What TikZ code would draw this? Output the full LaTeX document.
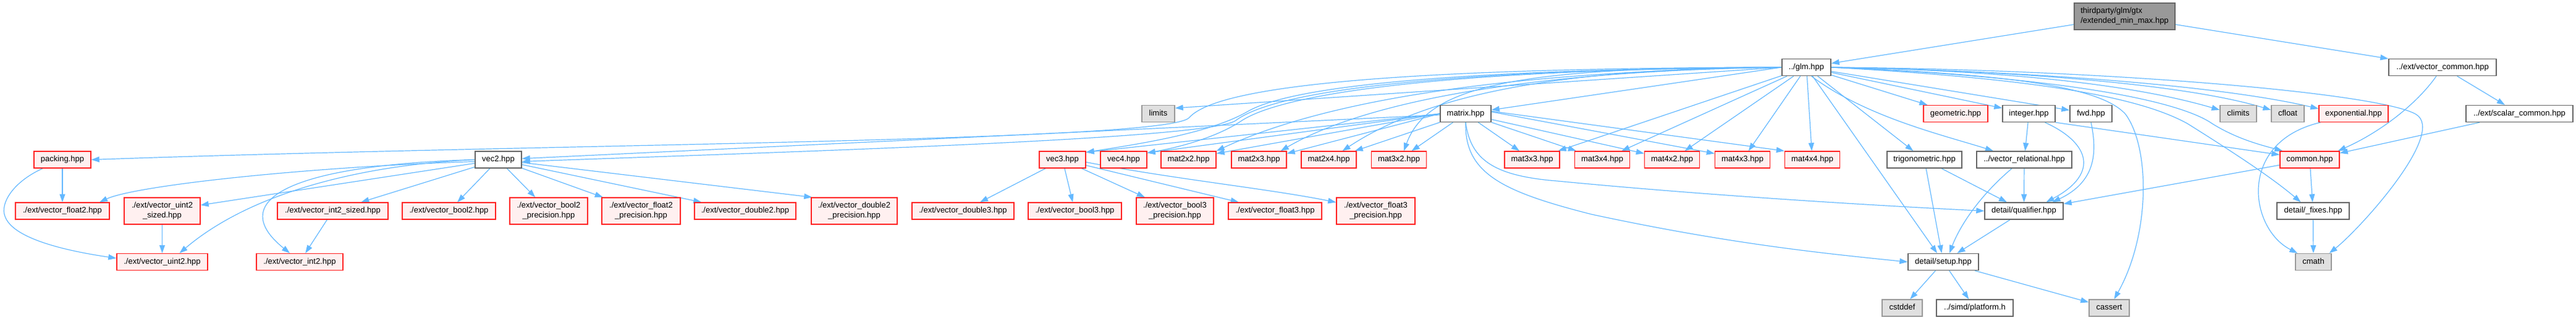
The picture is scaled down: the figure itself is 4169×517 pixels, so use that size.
\documentclass[tikz,border=0pt]{standalone}
\usepackage{fontspec}
\setmainfont{Liberation Sans}
\usetikzlibrary{arrows.meta,backgrounds}
\definecolor{eblue}{HTML}{63B8FF}
\definecolor{rfill}{HTML}{FFF0F0}
\definecolor{rline}{HTML}{FF2020}
\definecolor{wline}{HTML}{666666}
\definecolor{gfill}{HTML}{E0E0E0}
\definecolor{gline}{HTML}{999999}
\definecolor{rootfill}{HTML}{999999}
\newcommand\dxfont{\fontsize{13}{15.8}\selectfont}
\begin{document}
\begin{tikzpicture}[x=1pt,y=-1pt,
  nb/.style={draw, rectangle, inner sep=0pt, line width=1.4pt, font=\dxfont, text=black},
  one/.style={minimum height=27pt, text height=9.6pt, text depth=2.8pt},
  two/.style={minimum height=43pt, align=center},
  rn/.style={nb, draw=rline, fill=rfill},
  wn/.style={nb, draw=wline, fill=white},
  gn/.style={nb, draw=gline, fill=gfill},
  rootn/.style={nb, draw=wline, fill=rootfill, minimum height=43pt, align=left},
  dep/.style={draw=eblue, line width=1.2pt, -{Triangle[length=13pt,width=9pt]}}]
\useasboundingbox (0,0) rectangle (4169,517);

% row 0
\node[rootn, minimum width=163pt] (root) at (3438.5,26.5) {thirdparty/glm/gtx\\/extended\_min\_max.hpp};
% row 1
\node[wn,one,minimum width=79pt] (glm) at (2923.5,109) {../glm.hpp};
\node[wn,one,minimum width=174pt] (vcommon) at (3953,109) {../ext/vector\_common.hpp};
% row 2
\node[gn,one,minimum width=53pt] (limits) at (1874.5,184) {limits};
\node[wn,one,minimum width=82pt] (matrix) at (2372,184) {matrix.hpp};
\node[rn,one,minimum width=104pt] (geometric) at (3165,184) {geometric.hpp};
\node[wn,one,minimum width=85pt] (integer) at (3283.5,184) {integer.hpp};
\node[wn,one,minimum width=68pt] (fwd) at (3384,184) {fwd.hpp};
\node[gn,one,minimum width=59pt] (climits) at (3622.5,184) {climits};
\node[gn,one,minimum width=53pt] (cfloat) at (3702.5,184) {cfloat};
\node[rn,one,minimum width=112pt] (exponential) at (3809,184) {exponential.hpp};
\node[wn,one,minimum width=173pt] (scommon) at (4077.5,184) {../ext/scalar\_common.hpp};
% row 3
\node[rn,one,minimum width=92pt] (packing) at (101,258.5) {packing.hpp};
\node[wn,one,minimum width=75pt] (vec2) at (806.5,258.5) {vec2.hpp};
\node[rn,one,minimum width=75pt] (vec3) at (1719.5,258.5) {vec3.hpp};
\node[rn,one,minimum width=75pt] (vec4) at (1818.5,258.5) {vec4.hpp};
\node[rn,one,minimum width=89pt] (mat2x2) at (1923.5,258.5) {mat2x2.hpp};
\node[rn,one,minimum width=89pt] (mat2x3) at (2037.5,258.5) {mat2x3.hpp};
\node[rn,one,minimum width=89pt] (mat2x4) at (2150.5,258.5) {mat2x4.hpp};
\node[rn,one,minimum width=89pt] (mat3x2) at (2264,258.5) {mat3x2.hpp};
\node[rn,one,minimum width=89pt] (mat3x3) at (2479.5,258.5) {mat3x3.hpp};
\node[rn,one,minimum width=89pt] (mat3x4) at (2593,258.5) {mat3x4.hpp};
\node[rn,one,minimum width=89pt] (mat4x2) at (2706,258.5) {mat4x2.hpp};
\node[rn,one,minimum width=89pt] (mat4x3) at (2820,258.5) {mat4x3.hpp};
\node[rn,one,minimum width=89pt] (mat4x4) at (2933,258.5) {mat4x4.hpp};
\node[wn,one,minimum width=121pt] (trig) at (3114.5,258.5) {trigonometric.hpp};
\node[wn,one,minimum width=154pt] (vrel) at (3276,258.5) {../vector\_relational.hpp};
\node[rn,one,minimum width=96pt] (common) at (3738,258.5) {common.hpp};
% row 4
\node[rn,one,minimum width=152pt] (vfloat2) at (101,341.5) {./ext/vector\_float2.hpp};
\node[rn,two,minimum width=123pt] (vuint2s) at (262.5,341.5) {./ext/vector\_uint2\\\_sized.hpp};
\node[rn,one,minimum width=179pt] (vint2s) at (538.5,341.5) {./ext/vector\_int2\_sized.hpp};
\node[rn,one,minimum width=151pt] (vbool2) at (726.5,341.5) {./ext/vector\_bool2.hpp};
\node[rn,two,minimum width=126pt] (vbool2p) at (888,341.5) {./ext/vector\_bool2\\\_precision.hpp};
\node[rn,two,minimum width=127pt] (vfloat2p) at (1037.5,341.5) {./ext/vector\_float2\\\_precision.hpp};
\node[rn,one,minimum width=164pt] (vdouble2) at (1206,341.5) {./ext/vector\_double2.hpp};
\node[rn,two,minimum width=139pt] (vdouble2p) at (1382.5,341.5) {./ext/vector\_double2\\\_precision.hpp};
\node[rn,one,minimum width=165pt] (vdouble3) at (1558.5,341.5) {./ext/vector\_double3.hpp};
\node[rn,one,minimum width=151pt] (vbool3) at (1739.5,341.5) {./ext/vector\_bool3.hpp};
\node[rn,two,minimum width=125pt] (vbool3p) at (1901.5,341.5) {./ext/vector\_bool3\\\_precision.hpp};
\node[rn,one,minimum width=151pt] (vfloat3) at (2063.5,341.5) {./ext/vector\_float3.hpp};
\node[rn,two,minimum width=127pt] (vfloat3p) at (2226.5,341.5) {./ext/vector\_float3\\\_precision.hpp};
\node[wn,one,minimum width=127pt] (qualifier) at (3275.5,341.5) {detail/qualifier.hpp};
\node[wn,one,minimum width=117pt] (fixes) at (3743.5,341.5) {detail/\_fixes.hpp};
% row 5
\node[rn,one,minimum width=147pt] (vuint2) at (262.5,424) {./ext/vector\_uint2.hpp};
\node[rn,one,minimum width=140pt] (vint2) at (485,424) {./ext/vector\_int2.hpp};
\node[wn,one,minimum width=114pt] (setup) at (3145,424) {detail/setup.hpp};
\node[gn,one,minimum width=58pt] (cmath) at (3744,424) {cmath};
% row 6
\node[gn,one,minimum width=65pt] (cstddef) at (3078.5,498.5) {cstddef};
\node[wn,one,minimum width=124pt] (platform) at (3196,498.5) {../simd/platform.h};
\node[gn,one,minimum width=65pt] (cassert) at (3413.5,498.5) {cassert};

\begin{scope}[on background layer]
% root
\draw[dep] (root) -- (glm);
\draw[dep] (root) -- (vcommon);
% glm to the left
\draw[dep] (glm.west) -- ([yshift=9pt]limits.east);
\draw[dep] (glm.west) .. controls (2250,110) and (1970,140) .. (1925,190) .. controls (1895,230) and (900,232) .. (packing.east);
\draw[dep] (glm.west) .. controls (2300,113) and (2060,150) .. (2000,195) .. controls (1960,225) and (1300,245) .. ([yshift=-3pt]vec2.east);
\draw[dep] (glm.west) .. controls (2350,112) and (2090,140) .. (2020,180) .. controls (1960,215) and (1850,232) .. ([yshift=12pt]vec3.east);
\draw[dep] (glm.west) .. controls (2350,112) and (2080,150) .. (2010,195) .. controls (1970,222) and (1910,238) .. ([yshift=11pt]vec4.east);
\draw[dep] (glm.west) .. controls (2450,115) and (2150,160) .. (mat2x2.north east);
\draw[dep] (glm.west) .. controls (2450,115) and (2200,170) .. ([xshift=-10pt]mat2x3.north east);
\draw[dep] (glm.west) .. controls (2500,110) and (2300,160) .. ([xshift=22pt]mat2x4.north);
\draw[dep] (glm.west) .. controls (2450,108) and (2310,140) .. ([xshift=8pt]mat3x2.north);
\draw[dep] (glm.west) -- ([yshift=6pt]matrix.east);
\draw[dep] (glm) -- (mat3x3);
\draw[dep] (glm) -- (mat3x4);
\draw[dep] (glm) -- (mat4x2);
\draw[dep] (glm) -- (mat4x3);
\draw[dep] (glm) -- (mat4x4);
% glm downwards and to the right
\draw[dep] (glm) -- (setup);
\draw[dep] (glm) -- (trig);
\draw[dep] ([xshift=8pt]glm.south) .. controls (3020,190) and (3150,220) .. ([xshift=-50pt]vrel.north);
\draw[dep] (glm) -- (geometric);
\draw[dep] (glm) -- (integer);
\draw[dep] (glm) -- (fwd);
\draw[dep] (glm.east) .. controls (3300,115) and (3480,145) .. ([yshift=6pt]climits.west);
\draw[dep] (glm.east) .. controls (3300,115) and (3550,140) .. ([yshift=6pt]cfloat.west);
\draw[dep] (glm.east) .. controls (3300,115) and (3600,140) .. ([yshift=8pt]exponential.west);
\draw[dep] (glm.east) .. controls (3350,125) and (3530,165) .. (3580,200) .. controls (3620,225) and (3660,235) .. ([xshift=5pt]common.north west);
\draw[dep] (glm.east) .. controls (3250,125) and (3450,150) .. (3540,200) .. controls (3620,250) and (3680,290) .. ([xshift=-20pt]fixes.north);
\draw[dep] (glm.east) .. controls (3250,120) and (3400,140) .. (3440,185) .. controls (3480,240) and (3480,380) .. ([xshift=8pt]cassert.north);
\draw[dep] (glm.east) .. controls (3400,112) and (3850,150) .. (3910,185) .. controls (3960,215) and (3820,370) .. ([xshift=-4pt]cmath.north east);
% vector_common / scalar_common / common / exponential
\draw[dep] ([xshift=-10pt]vcommon.south) .. controls (3910,170) and (3850,215) .. ([xshift=-3pt]common.north east);
\draw[dep] (vcommon) -- (scommon);
\draw[dep] (scommon) -- (common);
\draw[dep] ([xshift=3pt]exponential.south west) .. controls (3620,230) and (3640,370) .. ([xshift=4pt]cmath.north west);
\draw[dep] (common) -- (qualifier);
\draw[dep] (common) -- (fixes);
\draw[dep] (fixes) -- (cmath);
% integer, fwd
\draw[dep] (integer) -- (vrel);
\draw[dep] ([xshift=26pt]integer.south) .. controls (3380,230) and (3400,280) .. ([xshift=36pt]qualifier.north);
\draw[dep] (integer.south east) -- ([yshift=8pt]common.west);
\draw[dep] (fwd.south) .. controls (3395,250) and (3390,295) .. ([xshift=46pt]qualifier.north);
% trig, vrel, qualifier, setup
\draw[dep] (trig) -- (setup);
\draw[dep] (trig) -- (qualifier);
\draw[dep] (vrel) -- (qualifier);
\draw[dep] ([xshift=-20pt]vrel.south) .. controls (3200,320) and (3170,370) .. ([xshift=10pt]setup.north);
\draw[dep] (qualifier) -- (setup);
\draw[dep] (setup) -- (cstddef);
\draw[dep] (setup) -- (platform);
\draw[dep] (setup) -- (cassert);
% matrix
\draw[dep] (matrix) -- (vec2);
\draw[dep] (matrix.west) -- ([yshift=12pt]vec3.east);
\draw[dep] (matrix.west) -- ([yshift=11pt]vec4.east);
\draw[dep] (matrix.west) -- ([yshift=10pt]mat2x2.east);
\draw[dep] (matrix.west) -- ([yshift=10pt]mat2x3.east);
\draw[dep] (matrix) -- (mat2x4);
\draw[dep] (matrix) -- (mat3x2);
\draw[dep] (matrix) -- (mat3x3);
\draw[dep] (matrix) -- (mat3x4);
\draw[dep] (matrix) -- (mat4x2);
\draw[dep] ([yshift=3pt]matrix.east) -- ([yshift=10pt]mat4x3.west);
\draw[dep] ([yshift=4pt]matrix.east) -- (mat4x4.north west);
\draw[dep] (matrix.south) .. controls (2380,260) and (2420,285) .. (2520,293) .. controls (2800,320) and (3100,336) .. (qualifier.west);
\draw[dep] (matrix.south) .. controls (2370,280) and (2430,310) .. (2576,347) .. controls (2800,395) and (2950,410) .. (setup.west);
% vec2
\draw[dep] ([yshift=-3pt]vec2.west) .. controls (500,270) and (220,300) .. ([xshift=60pt]vfloat2.north);
\draw[dep] (vec2) -- (vuint2s);
\draw[dep] (vec2.west) .. controls (620,265) and (420,300) .. ([xshift=28pt]vuint2.north);
\draw[dep] (vec2.west) .. controls (450,268) and (370,330) .. ([xshift=-16pt]vint2.north);
\draw[dep] (vec2) -- (vint2s);
\draw[dep] (vec2) -- (vbool2);
\draw[dep] (vec2) -- (vbool2p);
\draw[dep] (vec2) -- (vfloat2p);
\draw[dep] (vec2) -- ([xshift=12pt]vdouble2.north west);
\draw[dep] (vec2) -- ([xshift=2pt]vdouble2p.north west);
% packing
\draw[dep] (packing) -- (vfloat2);
\draw[dep] ([xshift=-32pt]packing.south) .. controls (20,295) and (0,330) .. (8,350) .. controls (20,385) and (100,405) .. ([yshift=6pt]vuint2.west);
\draw[dep] (vuint2s) -- (vuint2);
\draw[dep] (vint2s) -- (vint2);
% vec3
\draw[dep] (vec3) -- (vdouble3);
\draw[dep] (vec3) -- (vbool3);
\draw[dep] (vec3) -- (vbool3p);
\draw[dep] (vec3) -- (vfloat3);
\draw[dep] ([yshift=-4pt]vec3.east) .. controls (1900,290) and (2050,305) .. ([yshift=14pt]vfloat3p.west);
\end{scope}
\end{tikzpicture}
\end{document}
